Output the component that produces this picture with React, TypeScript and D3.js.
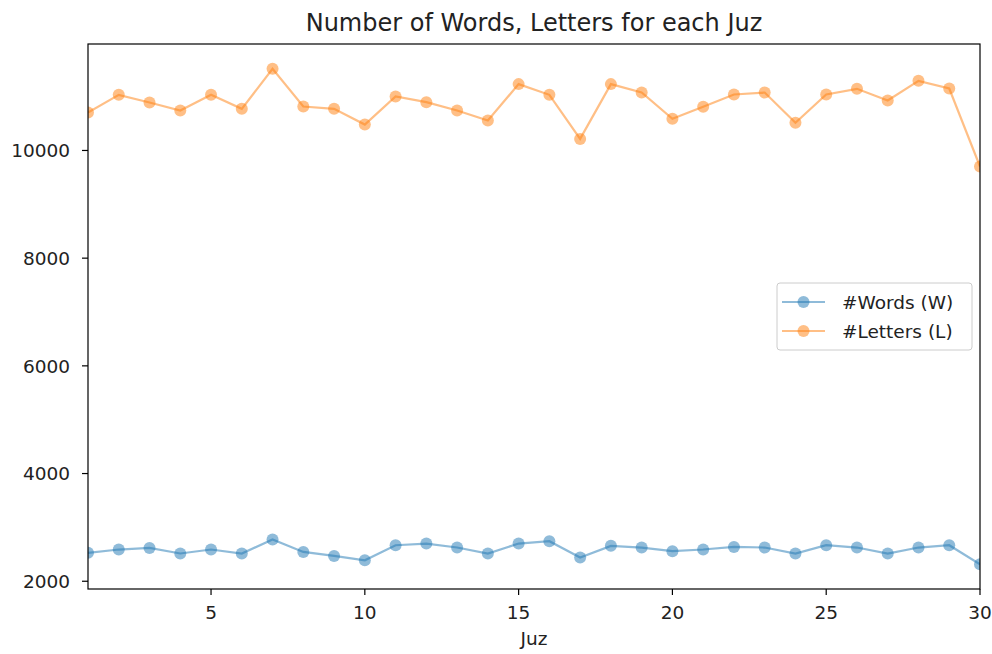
import React from "react";
import * as d3 from "d3";

const juz = Array.from({ length: 30 }, (_, i) => i + 1);
const words = [2527, 2589, 2619, 2515, 2589, 2515, 2775, 2545, 2470, 2390, 2669, 2700, 2626, 2515, 2700, 2743, 2440, 2657, 2626, 2558, 2589, 2638, 2626, 2515, 2669, 2626, 2515, 2626, 2669, 2316];
const letters = [10704, 11033, 10890, 10742, 11033, 10773, 11517, 10816, 10773, 10481, 11002, 10897, 10742, 10556, 11232, 11033, 10215, 11232, 11076, 10587, 10810, 11039, 11076, 10513, 11039, 11145, 10927, 11293, 11151, 9701];
const xTicks = [5, 10, 15, 20, 25, 30];
const yTicks = [2000, 4000, 6000, 8000, 10000];
const series = [
  { name: "#Words (W)", values: words, color: "#1f77b4" },
  { name: "#Letters (L)", values: letters, color: "#ff7f0e" },
];

export default function App() {
  const W = 992, H = 654;
  const L = 88, R = 980, T = 44, B = 589;
  const all = [...words, ...letters];
  const mn = d3.min(all)!, mx = d3.max(all)!;
  const pad = (mx - mn) * 0.05;
  const x = d3.scaleLinear().domain([1, 30]).range([L, R]);
  const y = d3.scaleLinear().domain([mn - pad, mx + pad]).range([B, T]);
  const line = d3.line<number>().x((_, i) => x(juz[i])).y((d) => y(d));
  const font = "DejaVu Sans, sans-serif";
  const fs = 18.5;
  return (
    <svg width={W} height={H} style={{ position: "absolute", left: 0, top: 0 }} fontFamily={font}>
      <rect x={0} y={0} width={W} height={H} fill="#fff" />
      <defs>
        <clipPath id="clip"><rect x={L} y={T} width={R - L} height={B - T} /></clipPath>
      </defs>
      <g clipPath="url(#clip)">
        {series.map((s) => (
          <g key={s.name}>
            <path d={line(s.values)!} fill="none" stroke={s.color} strokeWidth={2.2} strokeOpacity={0.5} />
            {s.values.map((v, i) => (
              <circle key={i} cx={x(juz[i])} cy={y(v)} r={6} fill={s.color} fillOpacity={0.5} />
            ))}
          </g>
        ))}
      </g>
      <rect x={L} y={T} width={R - L} height={B - T} fill="none" stroke="#000" strokeWidth={1.2} />
      {xTicks.map((t) => (
        <g key={t}>
          <line x1={x(t)} x2={x(t)} y1={B} y2={B + 6} stroke="#000" strokeWidth={1.2} />
          <text x={x(t)} y={B + 30} textAnchor="middle" fontSize={fs} fill="#222">{t}</text>
        </g>
      ))}
      {yTicks.map((t) => (
        <g key={t}>
          <line x1={L - 6} x2={L} y1={y(t)} y2={y(t)} stroke="#000" strokeWidth={1.2} />
          <text x={L - 18} y={y(t)} dy="0.36em" textAnchor="end" fontSize={fs} fill="#222">{t}</text>
        </g>
      ))}
      <text x={(L + R) / 2} y={645} textAnchor="middle" fontSize={fs} fill="#222">Juz</text>
      <text x={(L + R) / 2} y={31} textAnchor="middle" fontSize={24} fill="#222">Number of Words, Letters for each Juz</text>
      <g>
        <rect x={777} y={283} width={195} height={67} rx={3} fill="#fff" fillOpacity={0.8} stroke="#ccc" />
        {series.map((s, i) => {
          const cy = 302 + i * 29;
          return (
            <g key={s.name}>
              <line x1={782} x2={825} y1={cy} y2={cy} stroke={s.color} strokeWidth={2.2} strokeOpacity={0.5} />
              <circle cx={803.5} cy={cy} r={6} fill={s.color} fillOpacity={0.5} />
              <text x={842} y={cy} dy="0.36em" fontSize={fs} fill="#222">{s.name}</text>
            </g>
          );
        })}
      </g>
    </svg>
  );
}
